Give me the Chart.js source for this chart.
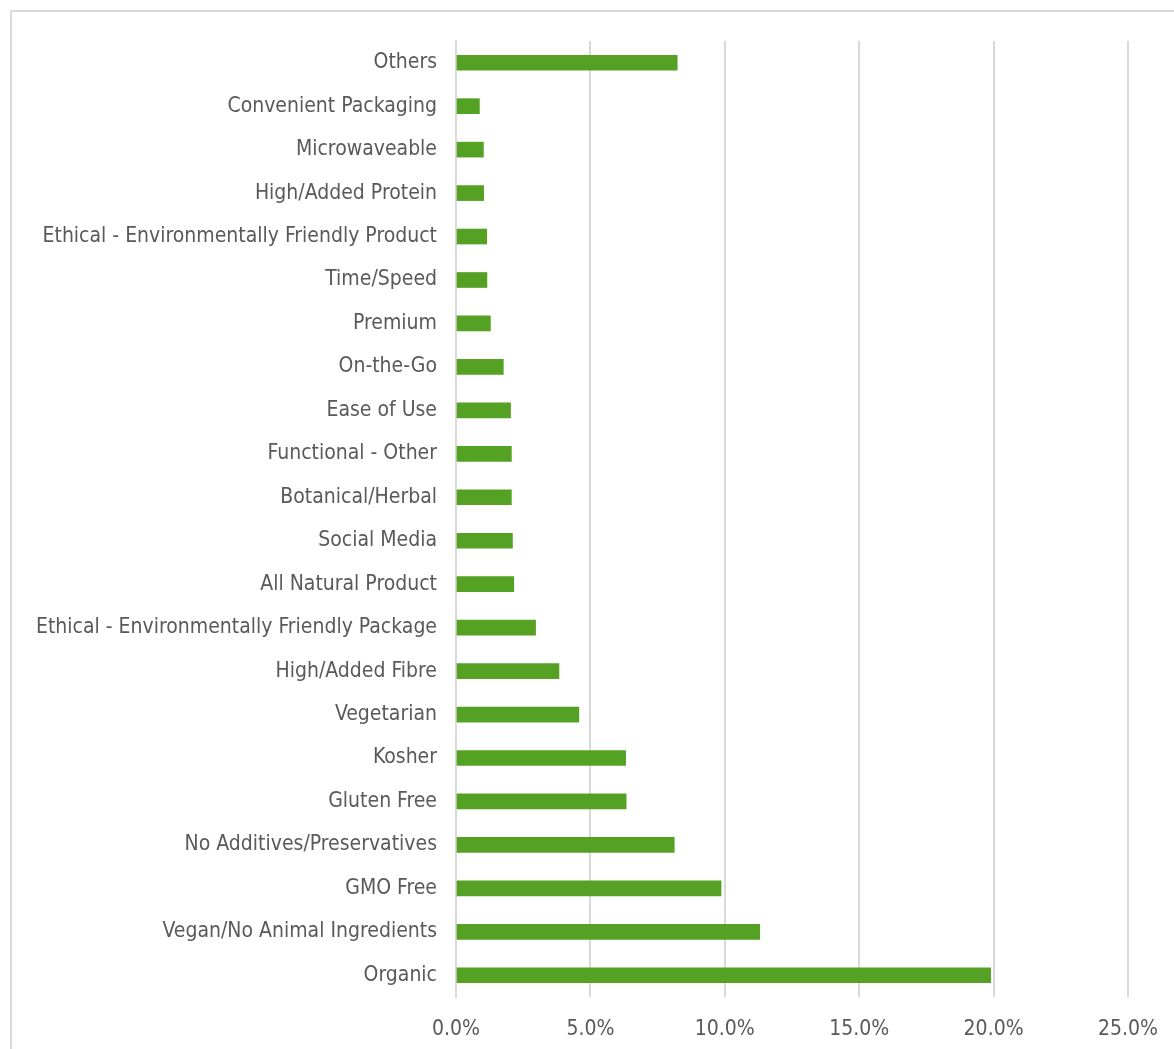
<!DOCTYPE html>
<html>
<head>
<meta charset="utf-8">
<script src="https://cdn.jsdelivr.net/npm/chart.js@4"></script>
<style>
  html, body { margin: 0; padding: 0; background: #ffffff; overflow: hidden; }
  #frame { position: absolute; left: 10px; top: 10px; width: 1200px; height: 1100px; border: 2px solid #d9d9d9; box-sizing: border-box; }
  #wrap { position: absolute; left: 0; top: 0; width: 1174px; height: 1049px; }
</style>
</head>
<body>
<div id="frame"></div>
<div id="wrap"><canvas id="c" width="1174" height="1049"></canvas></div>
<script>
const categories = [
  "Others",
  "Convenient Packaging",
  "Microwaveable",
  "High/Added Protein",
  "Ethical - Environmentally Friendly Product",
  "Time/Speed",
  "Premium",
  "On-the-Go",
  "Ease of Use",
  "Functional - Other",
  "Botanical/Herbal",
  "Social Media",
  "All Natural Product",
  "Ethical - Environmentally Friendly Package",
  "High/Added Fibre",
  "Vegetarian",
  "Kosher",
  "Gluten Free",
  "No Additives/Preservatives",
  "GMO Free",
  "Vegan/No Animal Ingredients",
  "Organic"
];
const shareValues = [
  8.23, 0.87, 1.02, 1.03, 1.14, 1.15, 1.28, 1.76, 2.03, 2.06, 2.06,
  2.10, 2.15, 2.96, 3.83, 4.57, 6.31, 6.33, 8.12, 9.86, 11.30, 19.89
];
const xTicks = [0, 5, 10, 15, 20, 25];

const FONT = "'DejaVu Sans Condensed', 'DejaVu Sans', sans-serif";
const TEXT = "#595959";
const GRID = "#d9d9d9";

new Chart(document.getElementById('c'), {
  type: 'bar',
  data: {
    labels: categories,
    datasets: [{
      data: shareValues,
      backgroundColor: '#55a124',
      borderWidth: 0,
      barThickness: 15
    }]
  },
  options: {
    indexAxis: 'y',
    responsive: false,
    animation: false,
    devicePixelRatio: 1,
    layout: { padding: { top: 41, right: 46, left: 0, bottom: 0 } },
    plugins: { legend: { display: false }, tooltip: { enabled: false } },
    scales: {
      x: {
        min: 0, max: 25,
        afterBuildTicks: (s) => { s.ticks = xTicks.map(v => ({ value: v })); },
        afterFit: (s) => { s.height = 52; s.paddingLeft = 0; s.paddingRight = 0; },
        grid: { color: GRID, lineWidth: 2, drawTicks: false },
        border: { display: false },
        ticks: {
          padding: 20,
          color: TEXT,
          font: { family: FONT, size: 21 },
          callback: (v) => Number(v).toFixed(1) + '%'
        }
      },
      y: {
        afterFit: (s) => { s.width = 456; s.paddingTop = 0; s.paddingBottom = 0; },
        grid: { display: false, drawTicks: false },
        border: { display: true, color: GRID, width: 2 },
        ticks: {
          padding: 19,
          color: TEXT,
          font: { family: FONT, size: 21 },
          autoSkip: false
        }
      }
    }
  }
});
</script>
</body>
</html>
